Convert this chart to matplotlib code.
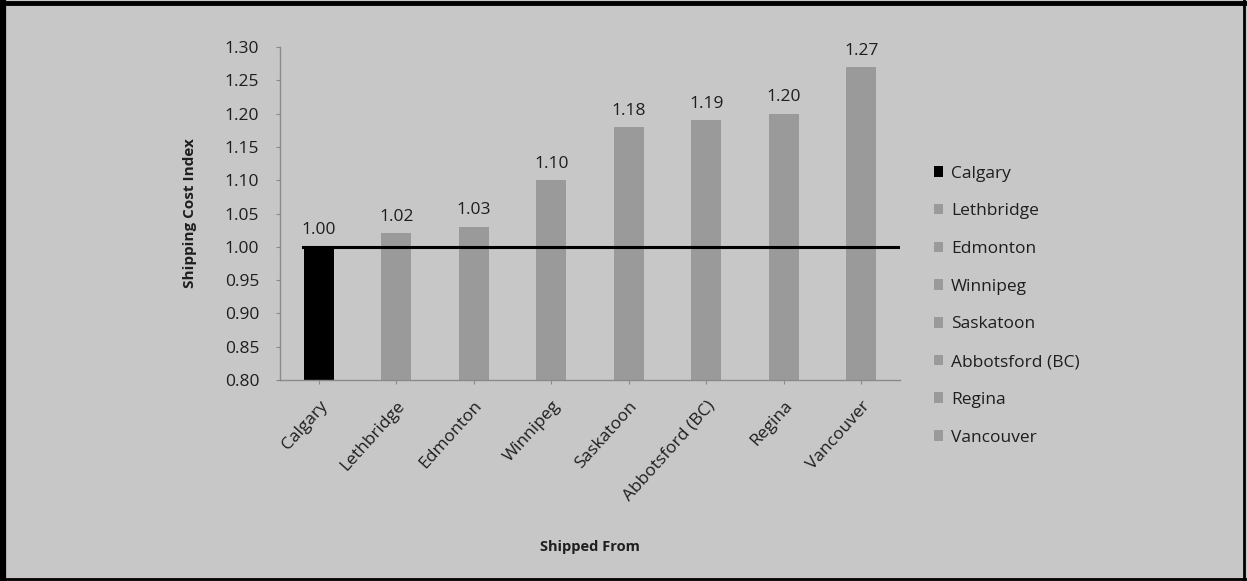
import matplotlib
matplotlib.use("Agg")
import matplotlib.pyplot as plt
from matplotlib.lines import Line2D

categories = ["Calgary", "Lethbridge", "Edmonton", "Winnipeg", "Saskatoon",
              "Abbotsford (BC)", "Regina", "Vancouver"]
values = [1.00, 1.02, 1.03, 1.10, 1.18, 1.19, 1.20, 1.27]
baseline = 1.00
yticks = [0.80, 0.85, 0.90, 0.95, 1.00, 1.05, 1.10, 1.15, 1.20, 1.25, 1.30]

bg = "#c7c7c7"
bar_grey = "#9a9a9a"
txt = "#1e1e1e"
colors = ["#000000"] + [bar_grey] * (len(categories) - 1)

plt.rcParams['font.family'] = ['Open Sans', 'DejaVu Sans']

fig = plt.figure(figsize=(12.47, 5.81), dpi=100, facecolor=bg)
ax = fig.add_axes([280/1247, 1 - 380/581, 620/1247, 333/581])
ax.set_facecolor(bg)

x = list(range(len(categories)))
bars = ax.bar(x, values, width=0.39, color=colors, zorder=2)

ax.set_xlim(-0.5, len(categories) - 0.5)
ax.set_ylim(0.80, 1.30)
ax.set_yticks(yticks)
ax.set_yticklabels([f"{v:.2f}" for v in yticks], fontsize=12.5, color=txt)
ax.set_xticks(x)
ax.set_xticklabels(categories, rotation=48, ha='right', va='top',
                   rotation_mode='anchor', fontsize=12.5, color=txt)
ax.tick_params(axis='x', length=3, color="#8a8a8a", pad=10)
ax.tick_params(axis='y', length=3, color="#8a8a8a", pad=12)

for s in ['top', 'right']:
    ax.spines[s].set_visible(False)
for s in ['left', 'bottom']:
    ax.spines[s].set_color("#8a8a8a")
    ax.spines[s].set_linewidth(1)

ax.plot([-0.2, len(categories) - 0.5], [baseline, baseline], color="#000000",
        linewidth=2.2, zorder=3)

for xi, v in zip(x, values):
    ax.annotate(f"{v:.2f}", (xi, v), xytext=(0, 6), textcoords='offset points',
                ha='center', va='bottom', fontsize=12.5, color=txt)

ax.set_ylabel("Shipping Cost Index", fontsize=11, fontweight='bold', color=txt,
              labelpad=20)
ax.set_xlabel("Shipped From", fontsize=10.5, fontweight='bold', color=txt,
              labelpad=26)

fig.legend(handles=list(bars), labels=categories, loc='upper left',
           bbox_to_anchor=(918/1247, 1 - 150/581), frameon=False,
           fontsize=12.5, handlelength=0.55, handleheight=0.55,
           handletextpad=0.45, labelspacing=1.25, labelcolor=txt)

# figure frame: thick left/top, thinner right/bottom
fig.add_artist(Line2D([0.0025, 0.0025], [0, 1], transform=fig.transFigure,
                      color='black', linewidth=4.5))
fig.add_artist(Line2D([0, 1], [0.995, 0.995], transform=fig.transFigure,
                      color='black', linewidth=3.5))
fig.add_artist(Line2D([0.9975, 0.9975], [0, 1], transform=fig.transFigure,
                      color='black', linewidth=2))
fig.add_artist(Line2D([0, 1], [0.003, 0.003], transform=fig.transFigure,
                      color='black', linewidth=2))

fig.savefig("out.png", dpi=100, facecolor=bg)
